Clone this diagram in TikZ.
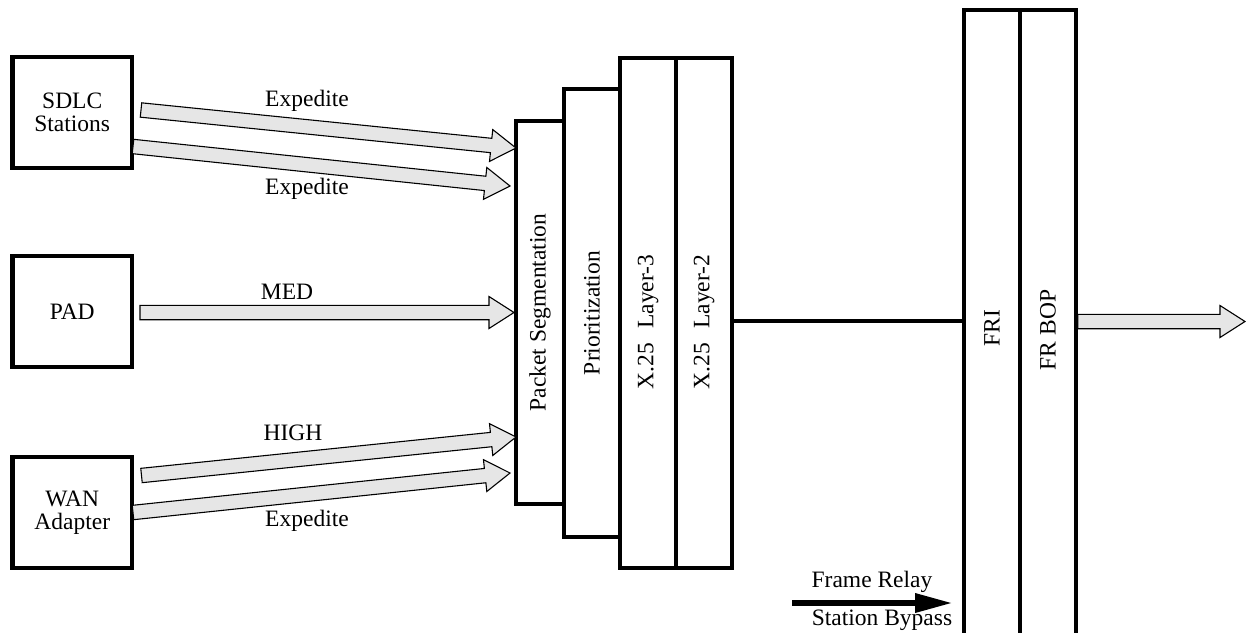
\documentclass[tikz,border=0pt]{standalone}
\usepackage{fontspec}
\setmainfont{Liberation Serif}
\usetikzlibrary{calc,arrows.meta}
\definecolor{agray}{RGB}{230,230,230}
\newcommand\dfs{\fontsize{11.75pt}{11.6pt}\selectfont}
\newcommand\blockarrow[2]{%
  \coordinate (ba-h) at ($(#2)!12.5pt!(#1)$);
  \draw[fat] ($(#1)!3.6pt!90:(#2)$) -- ($(ba-h)!3.6pt!90:(#2)$) -- ($(ba-h)!8pt!90:(#2)$) -- (#2)
    -- ($(ba-h)!8pt!-90:(#2)$) -- ($(ba-h)!3.6pt!-90:(#2)$) -- ($(#1)!3.6pt!-90:(#2)$) -- cycle;}
\begin{document}
\begin{tikzpicture}[x=0.5pt,y=-0.5pt,
  lbox/.style={draw, line width=2.25pt, minimum width=59.75pt, minimum height=55.5pt, inner sep=0pt, align=center, font=\dfs},
  sbox/.style={draw, line width=1.7pt, inner sep=0pt},
  txt/.style={inner sep=0pt, font=\dfs},
  fat/.style={fill=agray, draw=black, line width=0.55pt, line join=miter}]
\useasboundingbox (0,0) rectangle (1246,632);
\clip (0,0) rectangle (1246,632);

% left boxes
\node[lbox] (sdlc) at (72.25,112.5) {SDLC\\Stations};
\node[lbox] (pad)  at (72.25,311.5) {PAD};
\node[lbox] (wan)  at (72.25,512.5) {WAN\\Adapter};

% stack
\node[sbox, minimum width=24pt, minimum height=191.5pt] (ps) at (540,312.5) {};
\node[sbox, minimum width=28pt, minimum height=224pt] (pr) at (592,313) {};
\node[sbox, minimum width=28pt, minimum height=255pt] (l3) at (648,313) {};
\node[sbox, minimum width=28pt, minimum height=255pt] (l2) at (704,313) {};
\node[txt, rotate=90] (pst) at (ps) {Packet Segmentation};
\node[txt, rotate=90] (prt) at (pr) {Prioritization};
\node[txt, rotate=90] (l3t) at ($(l3)+(0,9)$) {X.25\hspace{0.6em}Layer-3};
\node[txt, rotate=90] (l2t) at ($(l2)+(0,9)$) {X.25\hspace{0.6em}Layer-2};

% FRI stack
\node[sbox, minimum width=28pt, minimum height=320pt] (fri) at (992,330) {};
\node[sbox, minimum width=28pt, minimum height=320pt] (frb) at (1048,330) {};
\node[txt, rotate=90] (frit) at (992,328) {FRI};
\node[txt, rotate=90] (frbt) at (1048,330) {FR BOP};

% connection
\draw[line width=2.4pt] (l2.east |- 0,321) -- (fri.west |- 0,321);

% block arrows
\coordinate (a1s) at (141,110);  \coordinate (a1t) at (516,148);
\coordinate (a2s) at (133,146.5);\coordinate (a2t) at (510,186);
\coordinate (a3s) at (140,312.5);\coordinate (a3t) at (514,312.5);
\coordinate (a4s) at (141.5,475.5);\coordinate (a4t) at (516,437);
\coordinate (a5s) at (133,512.5);\coordinate (a5t) at (510,473);
\coordinate (a6s) at (frb.east |- 0,321.5);\coordinate (a6t) at (1245,321.5);
\blockarrow{a1s}{a1t}
\blockarrow{a2s}{a2t}
\blockarrow{a3s}{a3t}
\blockarrow{a4s}{a4t}
\blockarrow{a5s}{a5t}
\blockarrow{a6s}{a6t}

% labels
\node[txt] (l1) at (307,101) {Expedite};
\node[txt] (l2l) at (307,189) {Expedite};
\node[txt] (l3l) at (287,292) {MED};
\node[txt] (l4l) at (293,433) {HIGH};
\node[txt] (l5l) at (307,521) {Expedite};

% frame relay bypass
\coordinate (fr1) at (792,603);
\coordinate (fr2) at (953,603);
\draw[line width=3.2pt, -{Triangle[length=19pt,width=9pt]}] (fr1) -- (fr2);
\node[txt] (frl1) at (872,582) {Frame Relay};
\node[txt] (frl2) at (882,620) {Station Bypass};
\end{tikzpicture}
\end{document}
